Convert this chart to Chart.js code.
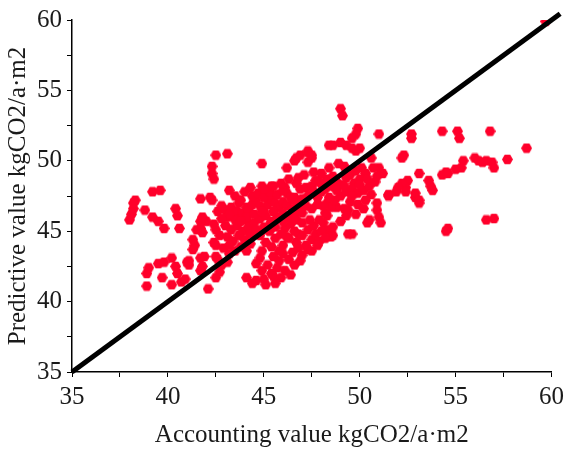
<!DOCTYPE html>
<html>
<head>
<meta charset="utf-8">
<script src="https://cdn.jsdelivr.net/npm/chart.js@4.4.1/dist/chart.umd.min.js"></script>
<style>
  html, body { margin: 0; padding: 0; background: #fff; }
  #wrap { width: 569px; height: 450px; }
</style>
</head>
<body>
<div id="wrap"><canvas id="scatterPlot"></canvas></div>
<script>
// Accounting value (x) and predictive value (y), kgCO2/a·m2
const accountingValues = [
  38.0, 38.1, 38.2, 38.2, 38.3, 38.8, 39.2, 39.6, 39.2, 39.5, 39.8, 40.4, 40.5, 40.6,
  38.9, 39.0, 39.5, 39.8, 39.7, 38.9, 40.2, 40.4, 40.5, 40.2, 40.7, 40.9, 41.1, 41.3, 41.4, 41.3,
  41.7, 41.9, 41.7, 41.8, 42.1, 42.5, 42.6, 42.8, 43.1, 43.2, 42.5, 42.7, 41.1, 41.0,
  41.7, 42.0, 42.4, 41.7, 41.8, 41.5, 42.5, 42.7, 42.4, 42.5,
  41.7, 42.2, 42.3, 42.6, 41.8, 43.1, 43.4, 43.7, 44.1,
  42.5, 43.1, 42.3, 42.3, 42.4,
  43.2, 43.5, 43.7, 44.1,
  44.9, 46.2, 44.9, 45.4,
  46.6, 46.9, 47.3, 47.5, 47.3, 48.4,
  46.1, 46.2, 46.7, 46.9, 47.2, 47.5, 47.9, 48.0, 48.3, 46.4, 46.6,
  49.0, 49.1, 49.9, 49.8, 49.6, 51.0, 52.7, 52.7, 54.3, 55.1, 55.2, 56.8, 58.7, 57.7,
  56.0, 56.2, 56.4, 56.6, 56.9, 57.0, 55.4, 55.3, 55.0, 54.5, 54.3, 54.6, 53.1, 53.6, 53.7, 53.8,
  52.3, 52.2, 52.5, 52.4, 52.2, 52.0, 51.5, 52.9, 53.1, 54.6, 54.5, 56.6, 57.0,
  50.9, 50.9, 51.0, 51.1, 50.5, 49.4, 49.6, 48.6,
  51.0, 51.2, 50.6, 50.7, 50.0, 49.8, 48.6, 49.0, 49.3, 49.6,
  47.3, 47.5, 46.7,
  48.3, 48.3, 48.1, 48.3, 48.5, 48.8, 49.2, 49.4, 50.4,
  51.5, 51.9, 52.4, 52.9, 53.1,
  59.7,
  42.8, 43.0, 43.3, 43.6, 43.9, 44.2, 44.4, 44.6, 44.8, 45.0, 45.2, 45.4, 45.6, 45.8, 46.0, 46.2,
  46.5, 46.8, 47.0, 47.3, 47.6, 47.8, 48.0, 48.2, 48.5, 48.8, 49.0, 49.3, 49.5, 49.8, 50.1, 50.3,
  50.0, 49.7,
  43.0, 43.3, 43.6, 43.9, 44.2, 44.5, 44.8, 45.1, 45.4, 45.7, 46.0, 46.3, 46.6, 46.9, 47.2, 47.5, 47.8,
  43.1, 43.4, 43.7, 44.0, 44.3, 44.6, 45.0, 45.3,
  44.4, 44.7, 45.0, 45.3, 45.7, 46.0, 45.5,
  42.9, 43.2, 43.5, 43.8, 44.1,
  44.1, 44.4, 44.6, 45.1, 45.0, 44.6, 44.8, 45.4, 45.7, 45.8, 46.0, 45.6, 45.4, 46.2, 45.1, 45.3,
  46.3, 46.5, 46.8, 47.0, 46.6, 46.9, 47.2, 47.5, 47.3, 47.7, 48.0, 47.9, 46.7, 47.0, 47.3, 47.6,
  47.9, 48.2, 48.5, 48.7, 49.0, 49.3, 49.6, 49.9, 50.2, 50.5, 50.8, 50.6, 50.3, 49.9, 49.5,
  46.4, 46.7, 47.0, 46.1, 45.5, 46.1, 45.9,
  43.8, 44.0, 44.3, 45.0, 45.9, 46.3, 46.8, 47.1, 47.6, 48.0, 48.4, 48.9, 49.2, 47.7, 48.6,
  44.1, 44.5, 44.9, 45.5, 46.0, 46.5, 47.0, 43.5, 43.2, 42.8, 43.8, 44.8, 44.3, 45.6,
  46.8, 47.4, 48.1, 48.4, 48.8, 49.2, 49.6, 50.0, 50.4, 50.9, 47.5, 47.8, 48.2, 48.6, 49.0,
  49.3, 49.8, 50.2, 46.0, 46.3, 45.8, 46.4, 45.6, 44.9, 45.2, 45.5, 44.9, 45.1, 45.9, 46.6
];
const predictiveValues = [
  45.8, 46.2, 46.6, 47.0, 47.2, 46.5, 47.8, 47.9, 46.0, 45.7, 45.2, 46.6, 46.1, 45.2,
  42.0, 42.4, 42.7, 42.8, 41.7, 41.1, 43.1, 42.5, 42.0, 41.2, 41.4, 41.6, 42.9, 44.4, 44.0, 43.7,
  43.1, 43.2, 42.2, 42.5, 40.9, 43.2, 43.0, 42.6, 42.8, 43.4, 41.7, 42.1, 42.6, 42.8,
  45.7, 45.7, 45.5, 45.2, 44.9, 45.1, 45.1, 44.7, 44.2, 44.0,
  47.3, 47.4, 47.2, 46.4, 46.0, 46.0, 46.1, 46.0, 45.8,
  50.4, 50.5, 49.6, 49.1, 48.7,
  47.9, 47.5, 47.0, 46.7,
  49.8, 49.5, 48.2, 48.2,
  50.0, 50.4, 50.6, 50.2, 49.9, 51.1,
  48.1, 47.7, 48.4, 48.0, 48.1, 48.2, 48.5, 48.4, 48.7, 47.4, 47.4,
  53.7, 53.2, 52.3, 51.9, 51.6, 51.9, 51.9, 51.6, 52.1, 52.1, 51.6, 52.1, 50.9, 50.1,
  50.2, 50.0, 49.9, 50.0, 49.9, 49.5, 50.0, 49.5, 49.4, 49.2, 49.0, 49.1, 49.1, 48.6, 48.2, 47.9,
  50.4, 50.2, 48.6, 48.1, 48.4, 48.1, 47.5, 47.4, 47.0, 45.2, 45.0, 45.8, 45.9,
  47.0, 46.5, 46.0, 45.6, 45.8, 44.8, 44.8, 44.7,
  49.5, 49.1, 50.2, 49.5, 50.9, 50.7, 51.1, 51.3, 51.1, 50.9,
  50.7, 50.4, 50.2,
  47.0, 46.1, 45.6, 45.1, 44.6, 46.7, 46.6, 46.5, 45.6,
  47.6, 47.8, 47.8, 47.7, 47.2,
  59.9,
  46.8, 46.5, 46.7, 46.4, 46.3, 46.5, 46.9, 47.2, 46.8, 46.5, 46.9, 47.3, 47.0, 46.7, 47.1, 46.8,
  46.6, 46.9, 47.3, 47.5, 47.8, 47.4, 47.8, 48.0, 48.2, 48.5, 48.3, 48.8, 49.0, 49.3, 49.5, 49.1,
  48.7, 48.4,
  45.4, 45.1, 45.4, 45.0, 45.3, 45.6, 45.9, 46.1, 45.7, 46.0, 46.3, 46.0, 46.2, 46.5, 46.8, 46.6, 46.9,
  44.6, 44.3, 44.7, 44.4, 44.8, 45.1, 45.3, 45.0,
  47.5, 47.7, 47.4, 47.8, 47.6, 47.9, 48.2,
  43.8, 44.0, 43.6, 43.9, 43.6,
  41.7, 41.3, 41.5, 41.2, 41.6, 42.7, 43.1, 42.0, 42.4, 42.9, 43.4, 44.5, 43.9, 44.6, 45.1, 45.4,
  43.0, 43.5, 43.8, 43.3, 42.6, 42.9, 44.0, 44.4, 43.7, 44.8, 45.0, 44.3, 44.2, 44.7, 45.1, 45.4,
  45.8, 46.3, 46.7, 47.2, 47.5, 47.8, 48.0, 47.7, 47.9, 48.2, 48.5, 47.6, 47.2, 46.9, 47.1,
  45.5, 45.8, 45.6, 45.2, 41.8, 42.2, 41.7,
  47.2, 47.8, 48.1, 48.0, 48.4, 48.7, 48.8, 49.0, 49.2, 49.1, 49.5, 49.8, 49.6, 48.6, 48.9,
  46.0, 46.2, 46.4, 46.4, 45.7, 47.2, 46.3, 45.8, 46.2, 45.9, 45.7, 44.7, 44.1, 45.3,
  44.8, 45.8, 46.8, 47.4, 47.9, 48.2, 47.5, 48.3, 48.7, 48.9, 43.6, 44.0, 44.5, 45.3, 45.7,
  46.1, 46.2, 46.6, 44.0, 44.5, 43.6, 41.9, 41.3, 42.2, 42.6, 43.2, 43.6, 44.2, 44.8, 45.0
];

// 1:1 reference line, runs a little past the axis end
const lineX = [35, 60.45];
const lineY = [35, 60.45];

const axisTicks = [35, 40, 45, 50, 55, 60];

// Function to build a small hexagon image for the markers
function makeHexagon(size, color) {
    const c = document.createElement('canvas');
    c.width = size;
    c.height = size;
    const g = c.getContext('2d');
    const r = size / 2;
    g.fillStyle = color;
    g.beginPath();
    for (let i = 0; i < 6; i++) {
        const a = Math.PI / 3 * i;
        const px = r + r * Math.cos(a);
        const py = r + r * Math.sin(a);
        if (i === 0) g.moveTo(px, py); else g.lineTo(px, py);
    }
    g.closePath();
    g.fill();
    return c;
}

const hexagon = makeHexagon(11, 'rgb(255, 0, 43)');

const scatterPoints = accountingValues.map((x, i) => ({ x: x, y: predictiveValues[i] }));
const linePoints = lineX.map((x, i) => ({ x: x, y: lineY[i] }));

const serif = "'Liberation Serif', 'Times New Roman', serif";
const ink = '#1a1a1a';

// Function to create the scatter plot
function createScatterChart() {
    const ctx = document.getElementById('scatterPlot').getContext('2d');

    const axisBase = {
        type: 'linear',
        min: 35,
        max: 60,
        afterBuildTicks: axis => {
            // major every 5, minor halfway between
            const t = [];
            for (let v = 35; v <= 60; v += 2.5) t.push({ value: v });
            axis.ticks = t;
        },
        ticks: {
            color: ink,
            font: { family: serif, size: 25 },
            callback: v => axisTicks.includes(v) ? v : ''
        },
        grid: {
            drawOnChartArea: false,
            drawTicks: true,
            tickLength: 5,
            color: '#000',
            lineWidth: 1
        },
        border: { display: true, color: '#000', width: 1.5 }
    };

    new Chart(ctx, {
        data: {
            datasets: [{
                type: 'line',
                label: 'y = x',
                data: linePoints,
                borderColor: '#000',
                borderWidth: 5,
                pointRadius: 0,
                fill: false,
                clip: false,
                order: 0
            }, {
                type: 'scatter',
                label: 'samples',
                data: scatterPoints,
                pointStyle: hexagon,
                pointRadius: 5,
                backgroundColor: 'rgb(255, 0, 43)',
                borderWidth: 0,
                order: 1
            }]
        },
        options: {
            responsive: true,
            maintainAspectRatio: false,
            animation: false,
            layout: { padding: { top: 19, right: 16, left: 0, bottom: 0 } },
            plugins: {
                legend: { display: false },
                tooltip: { enabled: false }
            },
            scales: {
                x: Object.assign({}, axisBase, {
                    position: 'bottom',
                    ticks: Object.assign({}, axisBase.ticks, { padding: 5, maxRotation: 0 }),
                    title: {
                        display: true,
                        text: 'Accounting value kgCO2/a·m2',
                        color: ink,
                        font: { family: serif, size: 25 },
                        padding: { top: 4, bottom: 0 }
                    },
                    afterFit: scale => { scale.height = 78; }
                }),
                y: Object.assign({}, axisBase, {
                    position: 'left',
                    ticks: Object.assign({}, axisBase.ticks, { padding: 5 }),
                    title: {
                        display: true,
                        text: 'Predictive value kgCO2/a·m2',
                        color: ink,
                        font: { family: serif, size: 25 },
                        padding: { top: 3, bottom: 2 }
                    },
                    afterFit: scale => { scale.width = 72; }
                })
            }
        }
    });
}

createScatterChart();
</script>
</body>
</html>
